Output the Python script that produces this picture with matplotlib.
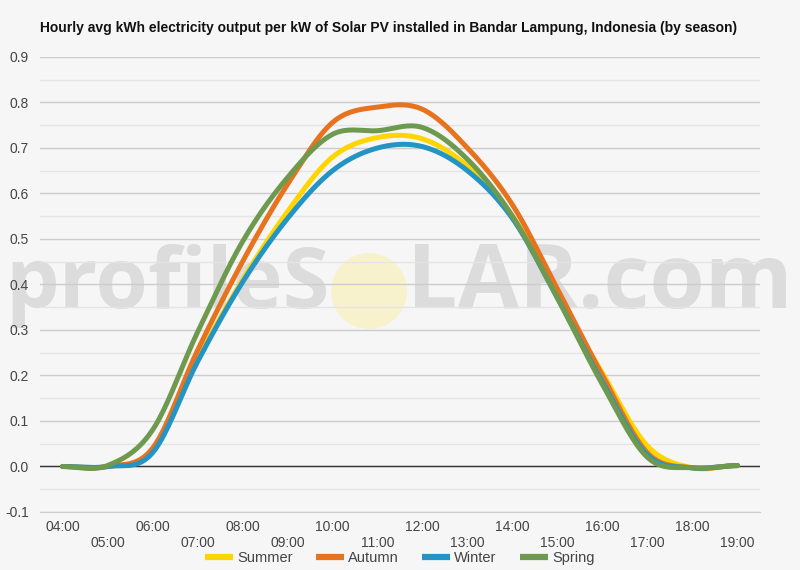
import numpy as np
import matplotlib.pyplot as plt
from matplotlib.patches import Ellipse

hours = [4, 5, 6, 7, 8, 9, 10, 11, 12, 13, 14, 15, 16, 17, 18, 19]
hour_labels = ['%02d:00' % h for h in hours]

summer = [0.0, 0.0, 0.033, 0.235, 0.41, 0.56, 0.68, 0.723, 0.72, 0.66, 0.55, 0.375, 0.205, 0.045, -0.003, 0.002]
autumn = [0.0, 0.0, 0.04, 0.255, 0.45, 0.62, 0.756, 0.79, 0.785, 0.70, 0.575, 0.39, 0.20, 0.03, -0.003, 0.002]
winter = [0.0, 0.0, 0.03, 0.23, 0.405, 0.545, 0.65, 0.70, 0.703, 0.65, 0.545, 0.37, 0.185, 0.025, -0.003, 0.002]
spring = [0.0, 0.002, 0.08, 0.295, 0.494, 0.635, 0.73, 0.738, 0.745, 0.675, 0.55, 0.37, 0.18, 0.02, -0.003, 0.002]

series = [('Summer', summer, '#ffd500'),
          ('Autumn', autumn, '#e8731f'),
          ('Winter', winter, '#2394c4'),
          ('Spring', spring, '#6e9a50')]

BG = '#f6f6f6'


def smooth(x, y, n=20):
    # catmull-rom through the hourly points, like the "function" curve type
    x = np.asarray(x, float)
    y = np.asarray(y, float)
    m = np.zeros_like(y)
    m[1:-1] = (y[2:] - y[:-2]) / 2
    xs, ys = [], []
    for i in range(len(x) - 1):
        t = np.linspace(0, 1, n, endpoint=False)
        h00 = 2 * t**3 - 3 * t**2 + 1
        h10 = t**3 - 2 * t**2 + t
        h01 = -2 * t**3 + 3 * t**2
        h11 = t**3 - t**2
        xs.append(x[i] + t * (x[i + 1] - x[i]))
        ys.append(h00 * y[i] + h10 * m[i] + h01 * y[i + 1] + h11 * m[i + 1])
    xs.append([x[-1]])
    ys.append([y[-1]])
    return np.concatenate(xs), np.concatenate(ys)


fig = plt.figure(figsize=(8, 5.7), dpi=100, facecolor=BG)
ax = fig.add_axes([0.05, 0.1018, 0.9, 0.7982])
ax.set_facecolor('none')
ax.set_zorder(1)

# watermark, behind the axes
wm = []
for txt, x0, x1 in [('profileS', 5, 330), ('LAR.com', 407, 793)]:
    t = fig.text(x0 / 800, 1 - 308 / 570, txt, fontsize=64, fontweight='bold', family='Open Sans',
                 color='#dcdcdc', ha='left', va='baseline', zorder=0)
    wm.append((t, x1 - x0))
fig.canvas.draw()
r = fig.canvas.get_renderer()
for t, w in wm:
    t.set_fontsize(64 * w / t.get_window_extent(r).width)
fig.patches.append(Ellipse((369 / 800, 1 - 291 / 570), 76 / 800, 76 / 570, transform=fig.transFigure,
                           facecolor='#f8f2cc', edgecolor='none', zorder=0))

for name, vals, col in series:
    sx, sy = smooth(hours, vals)
    ax.plot(sx, sy, color=col, lw=3.6, label=name, solid_capstyle='round', zorder=3)

ax.set_xlim(3.5, 19.5)
ax.set_ylim(-0.1, 0.9)
ax.set_yticks(np.arange(-0.1, 0.91, 0.1))
ax.set_yticklabels(['%.1f' % v for v in np.arange(-0.1, 0.91, 0.1)])
ax.set_yticks(np.arange(-0.05, 0.9, 0.1), minor=True)
ax.grid(axis='y', which='major', color='#cccccc', lw=1)
ax.grid(axis='y', which='minor', color='#e4e4e4', lw=1)
ax.axhline(0, color='#333333', lw=1, zorder=2)
ax.set_axisbelow(True)
for s in ['top', 'right', 'left']:
    ax.spines[s].set_visible(False)
ax.spines['bottom'].set_color('#cccccc')
ax.tick_params(axis='y', which='both', length=0, labelsize=10, labelcolor='#444444', pad=8)
ax.tick_params(axis='x', which='both', length=0)
ax.set_xticks(hours)
ax.set_xticklabels([])
for h, lab in zip(hours, hour_labels):
    yy = -0.133 if h % 2 == 0 else -0.168
    ax.text(h, yy, lab, ha='center', va='center', fontsize=10, color='#444444',
            family='Liberation Sans', clip_on=False)
for t in ax.get_yticklabels():
    t.set_family('Liberation Sans')

fig.text(0.05, 1 - 28 / 570, 'Hourly avg kWh electricity output per kW of Solar PV installed in Bandar Lampung, Indonesia (by season)',
         fontsize=10, fontweight='bold', family='Liberation Sans', ha='left', va='center', color='#111111')

leg = fig.legend(loc='center', bbox_to_anchor=(0.5, 1 - 558 / 570), ncol=4, frameon=False,
                 prop={'family': 'Liberation Sans', 'size': 10.5}, handlelength=1.9,
                 handletextpad=0.3, columnspacing=1.6)
for t in leg.get_texts():
    t.set_color('#444444')
for l in leg.get_lines():
    l.set_linewidth(4.5)
    l.set_solid_capstyle('butt')

fig.savefig('out.png', dpi=100, facecolor=BG)
